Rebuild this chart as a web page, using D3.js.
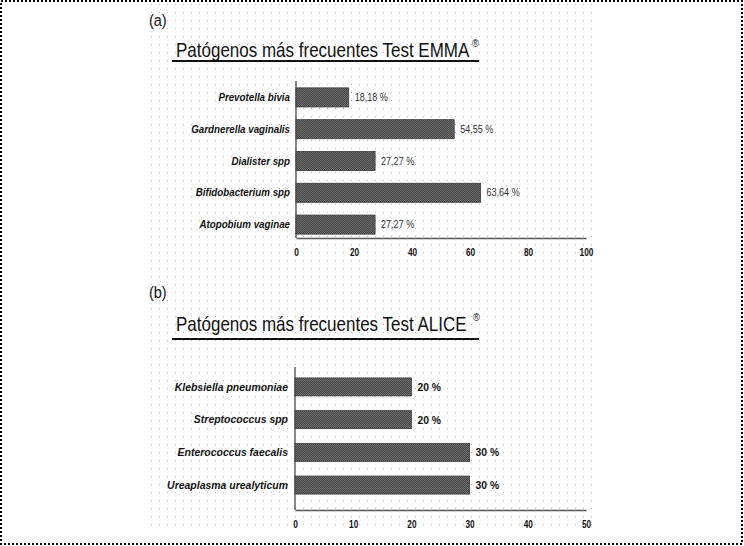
<!doctype html>
<html>
<head>
  <meta charset="utf-8">
  <title>Patógenos más frecuentes</title>
  <style>
    html, body { margin: 0; padding: 0; background: #fff; }
    svg { display: block; }
    text { font-family: "Liberation Sans", Arial, sans-serif; }
  </style>
</head>
<body>
  <div id="chart"></div>
  <script src="https://d3js.org/d3.v7.min.js"></script>
  <script>
    // Test EMMA
    const emmaCats = ['Prevotella bivia', 'Gardnerella vaginalis', 'Dialister spp', 'Bifidobacterium spp', 'Atopobium vaginae'];
    const emmaVals = [18.18, 54.55, 27.27, 63.64, 27.27];
    const emmaLabels = ['18,18 %', '54,55 %', '27,27 %', '63,64 %', '27,27 %'];
    const emmaTicks = [0, 20, 40, 60, 80, 100];

    // Test ALICE
    const aliceCats = ['Klebsiella pneumoniae', 'Streptococcus spp', 'Enterococcus faecalis', 'Ureaplasma urealyticum'];
    const aliceVals = [20, 20, 30, 30];
    const aliceLabels = ['20 %', '20 %', '30 %', '30 %'];
    const aliceTicks = [0, 10, 20, 30, 40, 50];

    const W = 744, H = 546;
    const svg = d3.select('#chart').append('svg').attr('width', W).attr('height', H);

    // the original picture is squeezed sideways, so text gets a horizontal scale
    const squeeze = (sel, s) => sel.each(function () {
      const t = d3.select(this);
      const x = +t.attr('x') || 0;
      t.attr('x', 0).attr('transform', `translate(${x},0) scale(${s},1)`);
    });

    const defs = svg.append('defs');
    const dots = defs.append('pattern').attr('id', 'dots')
      .attr('patternUnits', 'userSpaceOnUse').attr('width', 8).attr('height', 8)
      .attr('x', 151).attr('y', 4);
    dots.append('rect').attr('width', 1).attr('height', 1).attr('fill', '#bdbdbd');

    // checker texture of the bars
    const barTex = defs.append('pattern').attr('id', 'barTex')
      .attr('patternUnits', 'userSpaceOnUse').attr('width', 2).attr('height', 2);
    barTex.append('rect').attr('width', 2).attr('height', 2).attr('fill', '#444');
    barTex.append('rect').attr('width', 1).attr('height', 1).attr('fill', '#707070');
    barTex.append('rect').attr('x', 1).attr('y', 1).attr('width', 1).attr('height', 1).attr('fill', '#707070');

    // dotted background of the figure
    svg.append('rect').attr('x', 151).attr('y', 4).attr('width', 444).attr('height', 528)
      .attr('fill', 'url(#dots)');

    // dashed frame
    svg.append('rect').attr('x', 1).attr('y', 1).attr('width', 741).attr('height', 543)
      .attr('fill', 'none').attr('stroke', '#000').attr('stroke-width', 2)
      .attr('stroke-dasharray', '2,2');

    function panel(o) {
      const g = svg.append('g');

      g.append('text').attr('x', 149).attr('y', o.tagY)
        .attr('font-size', 17).attr('fill', '#111').text(o.tag)
        .call(squeeze, 0.85);

      g.append('text').attr('x', 176).attr('y', o.titleY)
        .attr('font-size', 20).attr('fill', '#111').text(o.title)
        .call(squeeze, 0.85);
      g.append('text').attr('x', o.regX).attr('y', o.titleY - 10)
        .attr('font-size', 11).attr('fill', '#111').text('®')
        .call(squeeze, 0.85);

      g.append('line').attr('x1', 172).attr('x2', 479)
        .attr('y1', o.lineY).attr('y2', o.lineY)
        .attr('stroke', '#111').attr('stroke-width', 1.8);

      const x = d3.scaleLinear().domain([0, o.max]).range([o.x0, 586]);
      const y = d3.scaleBand().domain(o.cats).range(o.band)
        .paddingInner(o.pIn).paddingOuter(o.pOut);

      // axes
      const xAxis = g.append('g').attr('transform', `translate(0,${o.axisY})`)
        .call(d3.axisBottom(x).tickValues(o.ticks).tickSize(0).tickPadding(10));
      xAxis.select('.domain').attr('stroke', '#555').attr('stroke-width', 1.4);
      xAxis.selectAll('.tick text').attr('font-size', 11).attr('font-family', null)
        .attr('font-weight', 'bold').attr('fill', '#111')
        .call(squeeze, 0.75);

      const yAxis = g.append('g').attr('transform', `translate(${o.x0},0)`)
        .call(d3.axisLeft(y).tickSize(0).tickPadding(o.catPad));
      yAxis.select('.domain').remove();
      yAxis.append('line').attr('x1', 0).attr('x2', 0)
        .attr('y1', o.axisTop).attr('y2', o.axisY)
        .attr('stroke', '#555').attr('stroke-width', 1.4);
      yAxis.selectAll('.tick text').attr('font-size', 11.5).attr('font-family', null)
        .attr('font-weight', 'bold').attr('font-style', 'italic').attr('fill', '#111')
        .call(squeeze, o.catSqueeze);

      // bars
      g.selectAll('rect.bar').data(o.cats).join('rect').attr('class', 'bar')
        .attr('x', x(0)).attr('y', d => y(d))
        .attr('width', (d, i) => x(o.vals[i]) - x(0))
        .attr('height', y.bandwidth())
        .attr('fill', 'url(#barTex)').attr('stroke', '#3a3a3a').attr('stroke-width', 0.8);

      g.selectAll('text.val').data(o.cats).join('text').attr('class', 'val')
        .attr('x', (d, i) => x(o.vals[i]) + 6)
        .attr('y', d => y(d) + y.bandwidth() / 2)
        .attr('dy', '0.35em')
        .attr('font-size', o.valSize).attr('font-weight', o.valWeight)
        .attr('fill', o.valColor)
        .text((d, i) => o.labels[i])
        .call(squeeze, o.valSqueeze);
    }

    panel({
      tag: '(a)', tagY: 26, title: 'Patógenos más frecuentes Test EMMA', regX: 472,
      titleY: 57, lineY: 61,
      cats: emmaCats, vals: emmaVals, labels: emmaLabels, ticks: emmaTicks, max: 100,
      x0: 296, band: [81.5, 240.5], pIn: 0.4, pOut: 0.2,
      axisTop: 81, axisY: 238, catPad: 6, catSqueeze: 0.85,
      valSize: 10.5, valWeight: 'normal', valColor: '#333', valSqueeze: 0.86
    });

    panel({
      tag: '(b)', tagY: 298, title: 'Patógenos más frecuentes Test ALICE', regX: 473,
      titleY: 331, lineY: 339,
      cats: aliceCats, vals: aliceVals, labels: aliceLabels, ticks: aliceTicks, max: 50,
      x0: 295, band: [364.5, 507.5], pIn: 0.45, pOut: 0.41,
      axisTop: 367, axisY: 510, catPad: 7, catSqueeze: 0.91,
      valSize: 11.5, valWeight: 'bold', valColor: '#111', valSqueeze: 0.9
    });
  </script>
</body>
</html>
